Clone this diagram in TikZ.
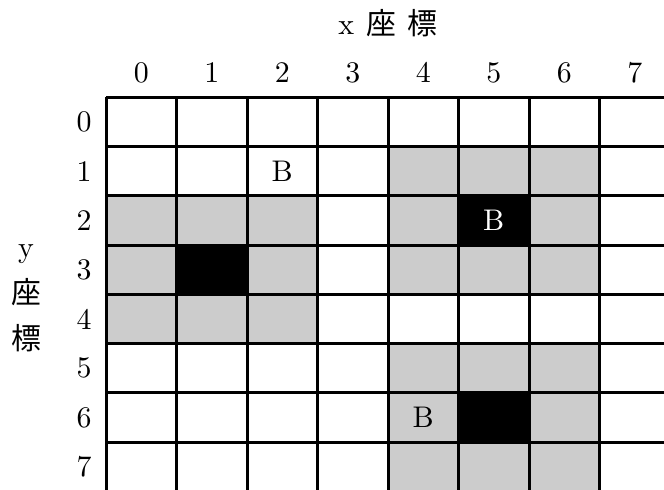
\documentclass[tikz,border=0pt]{standalone}
\usepackage{fontspec}
\newfontfamily\cjk{Noto Sans CJK JP}
\newfontfamily\numfont{lmroman10-regular.otf}
\definecolor{cellgray}{HTML}{CCCCCC}

\begin{document}
\begin{tikzpicture}[
    x=1.41cm, y=-0.985cm,
    num_node/.style={font=\numfont\fontsize{17}{20}\selectfont},
    gray_cell/.style={fill=cellgray},
    black_cell/.style={fill=black},
    grid_line/.style={line width=1.7pt}
]
        \useasboundingbox (-1.504,-1.978) rectangle (7.915,7.961);
        \clip (-1.504,-1.978) rectangle (7.915,7.961);

        \foreach \c/\r in {4/1,5/1,6/1,0/2,1/2,2/2,4/2,6/2,0/3,2/3,4/3,5/3,6/3,
                           0/4,1/4,2/4,4/5,5/5,6/5,4/6,6/6,4/7,5/7,6/7}
            \fill[gray_cell] (\c,\r) rectangle ++(1,1);
        \foreach \c/\r in {5/2,1/3,5/6}
            \fill[black_cell] (\c,\r) rectangle ++(1,1);

        \foreach \i in {0,...,8} {
            \draw[grid_line] (\i,0) -- (\i,8);
            \draw[grid_line] (0,\i) -- (8,\i);
        }

        \node[num_node] (title) at (4,-1.51)
            {x\hspace{0.4em}{\cjk 座}\hspace{0.4em}{\cjk 標}};
        \node[num_node, align=center] (ylabel) at (-1.135,4.08)
            {y\\[6pt]{\cjk 座}\\[6pt]{\cjk 標}};
        \foreach \i in {0,...,7} {
            \node[num_node] (col\i) at (\i+0.5,-0.508) {\i};
            \node[num_node] (row\i) at (-0.31,\i+0.5) {\i};
        }

        \node[num_node] (b1) at (2.5,1.5) {B};
        \node[num_node, text=white] (b2) at (5.5,2.5) {B};
        \node[num_node] (b3) at (4.5,6.5) {B};

    \end{tikzpicture}
\end{document}
